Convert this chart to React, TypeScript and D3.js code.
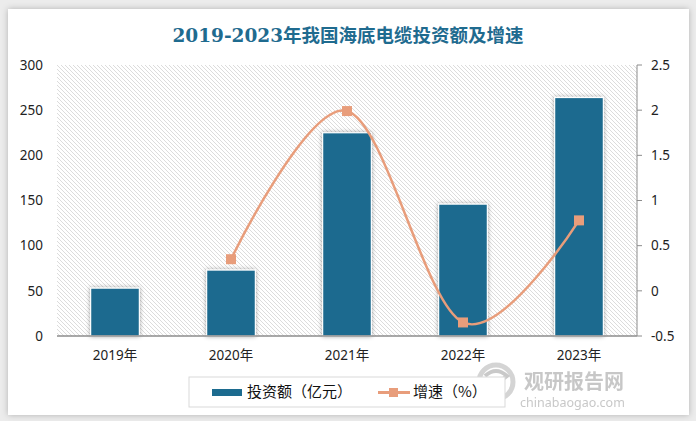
import React from 'react';
import * as d3 from 'd3';

// 2019-2023 submarine cable investment (亿元) and growth rate
const years = ['2019年', '2020年', '2021年', '2022年', '2023年'];
const investment = [53, 73, 225, 146, 264];
const growth: (number | null)[] = [null, 0.35, 1.99, -0.35, 0.78];
const leftTicks = [0, 50, 100, 150, 200, 250, 300];
const rightTicks = [-0.5, 0, 0.5, 1, 1.5, 2, 2.5];

const W = 696;
const H = 421;
const plot = { left: 57, right: 637, top: 65, bottom: 336 };

const barColor = '#1c6b8f';
const lineColor = '#e89d7b';
const font = '"Noto Sans", "Noto Sans CJK SC", sans-serif';

export default function App() {
  const x = d3.scaleBand<string>().domain(years).range([plot.left, plot.right]).padding(0);
  const step = x.step();
  const barW = step * 0.42;
  const cx = (d: string) => (x(d) as number) + step / 2;

  const yL = d3.scaleLinear().domain([0, 300]).range([plot.bottom, plot.top]);
  const yR = d3.scaleLinear().domain([-0.5, 2.5]).range([plot.bottom, plot.top]);

  const pts = years
    .map((d, i) => ({ d, v: growth[i] }))
    .filter(p => p.v !== null) as { d: string; v: number }[];

  const line = d3
    .line<{ d: string; v: number }>()
    .x(p => cx(p.d))
    .y(p => yR(p.v))
    .curve(d3.curveCardinal.tension(0));

  return (
    <svg width={W} height={H} style={{ position: 'absolute', left: 0, top: 0 }} fontFamily={font}>
      <defs>
        <pattern id="hatch" patternUnits="userSpaceOnUse" width={4} height={4}>
          <path d="M0,0 L4,4 M-1,3 L1,5 M3,-1 L5,1" stroke="#dcdcdc" strokeWidth={1} />
        </pattern>
        <filter id="card" x="-5%" y="-5%" width="110%" height="110%">
          <feDropShadow dx={0} dy={0} stdDeviation={3} floodColor="#000" floodOpacity={0.25} />
        </filter>
        <filter id="barShadow" x="-30%" y="-10%" width="160%" height="120%">
          <feDropShadow dx={0} dy={0} stdDeviation={2} floodColor="#000" floodOpacity={0.35} />
        </filter>
      </defs>

      {/* page + card */}
      <rect x={0} y={0} width={W} height={H} fill="#ececec" />
      <rect x={8} y={9} width={681} height={406} fill="#fff" filter="url(#card)" />

      {/* title */}
      <text x={348} y={42} textAnchor="middle" fontSize={18.5} fontWeight="bold" fill="#1f6b8f"
        fontFamily='"DejaVu Serif", "Noto Sans CJK SC", serif'>
        2019-2023年我国海底电缆投资额及增速
      </text>

      {/* hatched plot area */}
      <rect x={plot.left} y={plot.top} width={plot.right - plot.left} height={plot.bottom - plot.top} fill="url(#hatch)" />

      {/* left axis labels */}
      {leftTicks.map(t => (
        <text key={t} x={43} y={yL(t)} dy="0.35em" textAnchor="end" fontSize={13.5} fill="#222">
          {t}
        </text>
      ))}

      {/* right axis */}
      <line x1={plot.right} x2={plot.right} y1={plot.top} y2={plot.bottom} stroke="#8c8c8c" />
      {rightTicks.map(t => (
        <g key={t}>
          <line x1={plot.right} x2={plot.right + 5} y1={yR(t)} y2={yR(t)} stroke="#8c8c8c" />
          <text x={651} y={yR(t)} dy="0.35em" fontSize={13.5} fill="#222">{t}</text>
        </g>
      ))}

      {/* bars */}
      {years.map((d, i) => (
        <rect key={d} x={cx(d) - barW / 2} y={yL(investment[i])} width={barW}
          height={yL(0) - yL(investment[i])} fill={barColor} stroke="#fff" strokeWidth={1.2}
          filter="url(#barShadow)" />
      ))}

      {/* bottom axis */}
      <line x1={plot.left} x2={plot.right} y1={plot.bottom} y2={plot.bottom} stroke="#8c8c8c" strokeWidth={1.5} />
      {years.map(d => (
        <text key={d} x={cx(d)} y={360} textAnchor="middle" fontSize={13.5} fill="#222">{d}</text>
      ))}

      {/* growth line */}
      <path d={line(pts) || ''} fill="none" stroke={lineColor} strokeWidth={2.5} />
      {pts.map(p => (
        <rect key={p.d} x={cx(p.d) - 5} y={yR(p.v) - 5} width={10} height={10} fill={lineColor} />
      ))}

      {/* watermark */}
      <g opacity={0.9}>
        <circle cx={496} cy={382} r={17} fill="none" stroke="#d0d0d0" strokeWidth={5} />
        <path d="M485,376 Q496,366 507,376 Q496,385 485,391" fill="none" stroke="#c4c4c4" strokeWidth={4} />
        <text x={524} y={389} fontSize={20} fontWeight="bold" fill="#c2c2c2" fontFamily='"Noto Sans CJK SC", sans-serif'>观研报告网</text>
        <text x={520} y={407} fontSize={12.5} fill="#c2c2c2">chinabaogao.com</text>
      </g>

      {/* legend */}
      <rect x={189} y={377} width={316} height={30} fill="#fff" stroke="#d9d9d9" />
      <rect x={212} y={389} width={30} height={7} fill={barColor} />
      <text x={247} y={392} dy="0.35em" fontSize={15} fill="#111" fontFamily='"Noto Sans CJK SC", sans-serif'>投资额（亿元）</text>
      <line x1={378} x2={410} y1={392.5} y2={392.5} stroke={lineColor} strokeWidth={3} />
      <rect x={389} y={388} width={9} height={9} fill={lineColor} />
      <text x={413} y={392} dy="0.35em" fontSize={15} fill="#111" fontFamily='"Noto Sans CJK SC", sans-serif'>增速（%）</text>
    </svg>
  );
}
